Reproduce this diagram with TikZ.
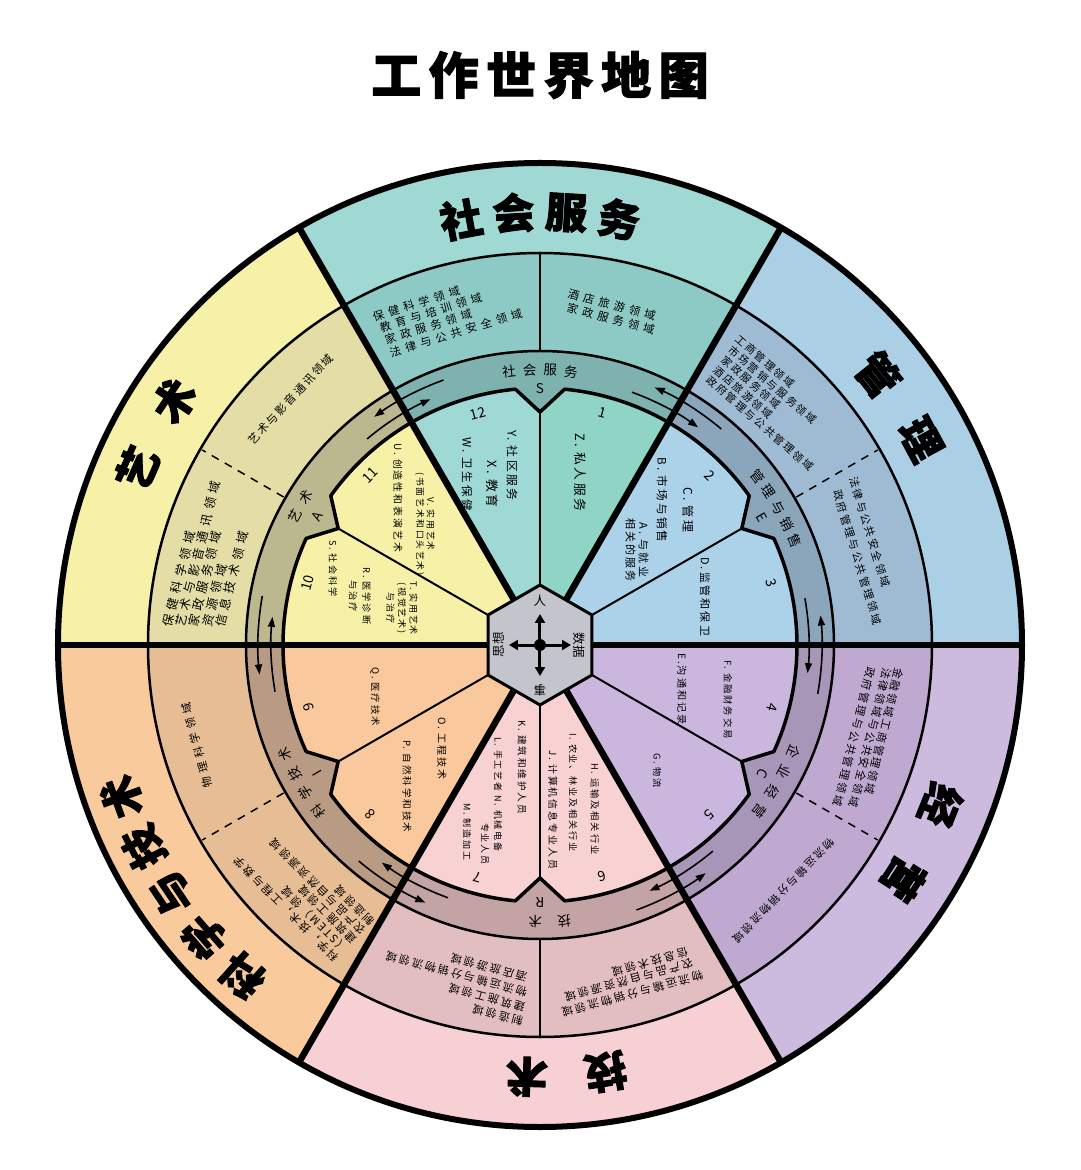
\documentclass[tikz,border=0pt]{standalone}
\usepackage{fontspec}
\setmainfont{Noto Sans CJK SC}
\newfontfamily\cjk[LetterSpace=20]{Noto Sans CJK SC}
\newfontfamily\cjkw[LetterSpace=40]{Noto Sans CJK SC}
\newfontfamily\heavy[BoldFeatures={FakeBold=2}]{Noto Sans CJK SC}
\newfontfamily\heavyw[LetterSpace=15,BoldFeatures={FakeBold=2}]{Noto Sans CJK SC}
\usetikzlibrary{arrows.meta}
\definecolor{oS}{HTML}{A0D8D3}\definecolor{fS}{HTML}{8ECAC5}\definecolor{gS}{HTML}{7EB2AF}
\definecolor{iSa}{HTML}{8FD4C5}\definecolor{iSb}{HTML}{9FD9D6}
\definecolor{oM}{HTML}{ABCFE5}\definecolor{fM}{HTML}{9EBBD3}\definecolor{gM}{HTML}{8BA6BA}\definecolor{iM}{HTML}{ACD2EA}
\definecolor{oB}{HTML}{CDBBDF}\definecolor{fB}{HTML}{BFA9D0}\definecolor{gB}{HTML}{A896B9}\definecolor{iB}{HTML}{CBB7DE}
\definecolor{oT}{HTML}{F7D0D4}\definecolor{fT}{HTML}{E3BEC1}\definecolor{gT}{HTML}{C4A3A5}\definecolor{iT}{HTML}{F8D1D3}
\definecolor{oK}{HTML}{F8CA9C}\definecolor{fK}{HTML}{E6BD94}\definecolor{gK}{HTML}{B89B82}\definecolor{iK}{HTML}{F9C99D}
\definecolor{oA}{HTML}{F6F1A6}\definecolor{fA}{HTML}{E4DEA6}\definecolor{gA}{HTML}{BBB78E}\definecolor{iA}{HTML}{F7F1A8}
\definecolor{hexc}{HTML}{C4C4CC}
\newcommand{\arctext}[6]{%
  \foreach \ch [count=\i] in {#5} {%
    \pgfmathsetmacro\ang{#1-(\i-(#4+1)/2)*#3}%
    \node[#6, rotate=\ang-90] at (\ang:#2) {\ch};
  }}
\tikzset{
  fld/.style={font=\cjk\fontsize{#1}{#1}\selectfont, inner sep=0, anchor=west},
  fld/.default=11,
  fldw/.style={font=\cjkw\fontsize{#1}{#1}\selectfont, inner sep=0, anchor=west},
  fldw/.default=11.3,
  inn/.style 2 args={font=\cjk\fontsize{#1}{#2}\selectfont, inner sep=0, rotate=-90},
  num/.style={font=\fontsize{14}{14}\selectfont, inner sep=0},
  rlab/.style={font=\fontsize{13.5}{13.5}\selectfont, inner sep=0},
  ttl/.style={font=\heavy\bfseries\fontsize{42}{42}\selectfont, inner sep=0},
  rarr/.style={line width=1.6pt, -{Triangle[length=10pt,width=7pt]}},
  hexarr/.style={line width=3pt, -{Triangle[length=9pt,width=10pt]}},
  ringline/.style={line width=2.5pt},
  hexlab/.style={font=\fontsize{12.5}{12.5}\selectfont, inner sep=0},
}
\begin{document}
\begin{tikzpicture}[x=1pt,y=1pt]
\useasboundingbox (-540,-525) rectangle (540,645);
\fill[white] (-540,-525) rectangle (540,645);
% sectors
\foreach \a/\o/\f/\g/\ia/\ib in {0/oM/fM/gM/iM/iM, 60/oS/fS/gS/iSa/iSb, 120/oA/fA/gA/iA/iA, 180/oK/fK/gK/iK/iK, 240/oT/fT/gT/iT/iT, 300/oB/fB/gB/iB/iB}{
  \fill[\o] (0,0) -- (\a:482) arc[start angle=\a, end angle=\a+60, radius=482] -- cycle;
  \fill[\f] (0,0) -- (\a:392) arc[start angle=\a, end angle=\a+60, radius=392] -- cycle;
  \fill[\g] (0,0) -- (\a:294) arc[start angle=\a, end angle=\a+60, radius=294] -- cycle;
  \fill[\ia] (0,0) -- (\a:257) arc[start angle=\a, end angle=\a+30, radius=257] -- cycle;
  \fill[\ib] (0,0) -- (\a+30:257) arc[start angle=\a+30, end angle=\a+60, radius=257] -- cycle;
  \fill[\g] (\a+24.4:260) -- (\a+30:233) -- (\a+35.6:260) -- (\a+35.6:266) -- (\a+24.4:266) -- cycle;
}
% inner boundary with notches
\draw[line width=3.5pt, line join=round] (35.5:257) arc[start angle=35.5, end angle=84.5, radius=257] -- (90:233) -- (95.5:257)
  arc[start angle=95.5, end angle=144.5, radius=257] -- (150:233) -- (155.5:257)
  arc[start angle=155.5, end angle=204.5, radius=257] -- (210:233) -- (215.5:257)
  arc[start angle=215.5, end angle=264.5, radius=257] -- (270:233) -- (275.5:257)
  arc[start angle=275.5, end angle=324.5, radius=257] -- (330:233) -- (335.5:257)
  arc[start angle=335.5, end angle=384.5, radius=257] -- (30:233) -- cycle;
\draw[ringline] (0,0) circle[radius=294];
\draw[ringline] (0,0) circle[radius=392];
% dividers in field ring
\draw[line width=1.5pt] (90:294) -- (90:392);
\draw[line width=1.5pt] (270:294) -- (270:392);
\foreach \t in {30,150,210,330} \draw[line width=1.5pt, dash pattern=on 8pt off 7pt] (\t:296) -- (\t:390);
% thin inner lines
\foreach \t in {30,90,...,330} \draw[line width=2pt] (\t:58) -- (\t:233);
% thick sector lines
\foreach \t in {0,60,...,300} \draw[line width=6.5pt] (\t:50) -- (\t:482);
\draw[line width=6pt] (0,0) circle[radius=482];
% hexagon
\filldraw[fill=hexc, line width=3pt] (90:60) -- (150:60) -- (210:60) -- (270:60) -- (330:60) -- (30:60) -- cycle;
\fill (0,0) circle[radius=6];
\draw[hexarr] (0,5) -- (0,31);
\draw[hexarr] (0,-5) -- (0,-31);
\draw[hexarr] (5,0) -- (31,0);
\draw[hexarr] (-5,0) -- (-31,0);
\node[hexlab] at (0,44) {人};
\node[hexlab, rotate=-90] at (39,0) {数据};
\node[hexlab, rotate=90] at (-41,0) {思想};
\node[hexlab, rotate=180] at (0,-45) {事};
% ring arrows
\foreach \t in {0,60,...,300}{
  \draw[rarr] (\t-10:282) arc[start angle=\t-10, end angle=\t+6, radius=282];
  \draw[rarr] (\t+10:269) arc[start angle=\t+10, end angle=\t-6, radius=269];
}
% ring labels
\arctext{90}{275}{4.3}{4}{社,会,服,务}{rlab}
\node[rlab] at (90:256) {S};
\arctext{30}{275}{3.9}{5}{管,理,与,销,售}{rlab}
\node[rlab, rotate=-60] at (30:256) {E};
\arctext{330}{275}{4.8}{4}{企,业,经,营}{rlab}
\node[rlab, rotate=-120] at (330:257) {C};
\arctext{272}{277}{6}{2}{技,术}{rlab}
\node[rlab, rotate=180] at (270:257) {R};
\arctext{210}{277}{4.5}{4}{科,学,技,术}{rlab}
\node[rlab, rotate=120] at (210:257) {I};
\arctext{150}{277}{4.5}{2}{艺,术}{rlab}
\node[rlab, rotate=60] at (150:257) {A};
% sector titles
\arctext{90}{433}{7}{4}{社,会,服,务}{ttl}
\arctext{33.5}{433}{10.3}{2}{管,理}{ttl}
\arctext{151.3}{440}{10}{2}{艺,术}{ttl}
\arctext{214}{445}{7}{5}{科,学,与,技,术}{ttl}
\arctext{273.5}{432}{10.5}{2}{技,术}{ttl}
\arctext{-27.3}{432}{11}{2}{经,营}{ttl}
% title
\node[font=\heavyw\bfseries\fontsize{50}{50}\selectfont, inner sep=0] at (0,570) {工作世界地图};
% field texts
\node[fldw, rotate=17] at (-167,328) {保健科学领域};
\node[fldw, rotate=17] at (-160,317) {教育与培训领域};
\node[fldw, rotate=17] at (-155,305) {家政服务领域};
\node[fldw, rotate=17] at (-150,292) {法律与公共安全领域};
\node[fldw, rotate=-15] at (28,352) {酒店旅游领域};
\node[fldw, rotate=-15] at (27,338) {家政服务领域};
\node[fld=10.6, rotate=-41] at (197,308) {工商管理领域};
\node[fld=10.6, rotate=-41] at (190,297) {市场营销与服务领域};
\node[fld=10.6, rotate=-41] at (183,287) {家政服务领域};
\node[fld=10.6, rotate=-41] at (175,277) {酒店旅游领域};
\node[fld=10.6, rotate=-41] at (168,267) {政府管理与公共管理领域};
\node[fld=10.8, rotate=-73] at (313,168) {法律与公共安全领域};
\node[fld=10.8, rotate=-73] at (297,155) {政府管理与公共管理领域};
\node[fld=11, rotate=-104] at (360,-23) {金融领域工商管理领域};
\node[fld=11, rotate=-104] at (348,-23) {法律领域与公共安全领域};
\node[fld=11, rotate=-104] at (332,-22) {政府管理与公共管理领域};
\node[fld=10.8, rotate=-134] at (293,-195) {物流运输与分销物流领域};
\node[fld=11.2, rotate=195] at (163,-330) {物流运输与分销物流领域};
\node[fld=11.2, rotate=195] at (153,-318) {农产品与自然资源领域};
\node[fld=11.2, rotate=195] at (148,-307) {信息技术领域};
\node[fld=11.2, rotate=165] at (-17,-377) {制造领域};
\node[fld=11.2, rotate=165] at (-15,-363) {建筑施工领域};
\node[fld=11.2, rotate=165] at (-13,-348) {物流运输与分销物流领域};
\node[fld=11.2, rotate=165] at (-13,-333) {酒店旅游领域};
\node[fldw=11, rotate=105] at (-332,-143) {物理科学领域};
\node[fld=11, rotate=135] at (-203,-315) {科学，技术，工程与数学};
\node[fld=11, rotate=135] at (-194,-306) {（STEM）领域};
\node[fld=11, rotate=135] at (-185,-297) {建筑施工领域};
\node[fld=11, rotate=135] at (-176,-288) {农产品与自然资源领域};
\node[fld=11, rotate=135] at (-167,-279) {制造领域};
\node[fld=11.2, rotate=47] at (-290,202) {艺术与影音通讯领域};
\node[fldw=12.3, rotate=76] at (-373,18) {保健科学领域};
\node[fldw=12.3, rotate=76] at (-360,18) {艺术与影音通讯领域};
\node[fldw=12.3, rotate=76] at (-347,18) {家政服务领域};
\node[fldw=12.3, rotate=76] at (-333,18) {资源领域};
\node[fldw=12.3, rotate=76] at (-320,18) {信息技术领域};
% inner numbers
\foreach \n in {1,...,12}{
  \pgfmathsetmacro\ang{75-30*(\n-1)}
  \node[num, rotate=\ang-90] at (\ang:240) {\n};
}
% inner texts
\node[inn={12.8}{14}, anchor=west] at (40,212) {Z. 私人服务};
\node[inn={11.8}{14}, anchor=west] at (-28,215) {Y. 社区服务};
\node[inn={12.8}{14}, anchor=west] at (-48,185) {X. 教育};
\node[inn={11.6}{14}, anchor=west] at (-73,208) {W. 卫生保健};
\node[inn={9.9}{12}, anchor=west] at (-142,202) {U. 创造性和表演艺术};
\node[inn={8.8}{10.5}, align=center] at (-115,121) {V. 实用艺术\\(书面艺术和口头艺术)};
\node[inn={9}{11.5}, align=center] at (-138,37) {T. 实用艺术\\(视觉艺术)\\与治疗};
\node[inn={9.2}{13.5}, align=center] at (-180,49) {R. 医学诊断\\与治疗};
\node[inn={9.2}{12}, anchor=west] at (-207,105) {S. 社会科学};
\node[inn={9.4}{12}, anchor=west] at (-165,-22) {Q. 医疗技术};
\node[inn={10}{12}, anchor=west] at (-98,-72) {O. 工程技术};
\node[inn={9.6}{12}, anchor=west] at (-133,-95) {P. 自然科学和技术};
\node[inn={9.6}{12}, anchor=west] at (-18,-75) {K. 建筑和维护人员};
\node[inn={9}{12}, anchor=west] at (-42,-92) {L. 手工艺者 N. 机械电备};
\node[inn={9}{12}, anchor=west] at (-55,-178) {专业人员};
\node[inn={9}{12}, anchor=west] at (-73,-158) {M. 制造加工};
\node[inn={9.3}{12}, anchor=west] at (55,-118) {H. 运输及相关行业};
\node[inn={9.1}{12}, anchor=west] at (33,-88) {I. 农业、林业及相关行业};
\node[inn={9.9}{12}, anchor=west] at (13,-105) {J. 计算机信息专业人员};
\node[inn={9.2}{12}, anchor=west] at (117,-108) {G. 物流};
\node[inn={9.4}{12}, anchor=west] at (188,-15) {F. 金融财务交易};
\node[inn={10.1}{12}, anchor=west] at (142,-8) {E.沟通和记录};
\node[inn={11}{12}, anchor=west] at (165,88) {D.监管和保卫};
\node[inn={11.6}{12}, anchor=west] at (122,188) {B. 市场与销售};
\node[inn={12}{12}, anchor=west] at (148,158) {C. 管理};
\node[inn={11}{13}, align=center] at (97,95) {A. 与就业\\相关的服务};
\end{tikzpicture}
\end{document}
